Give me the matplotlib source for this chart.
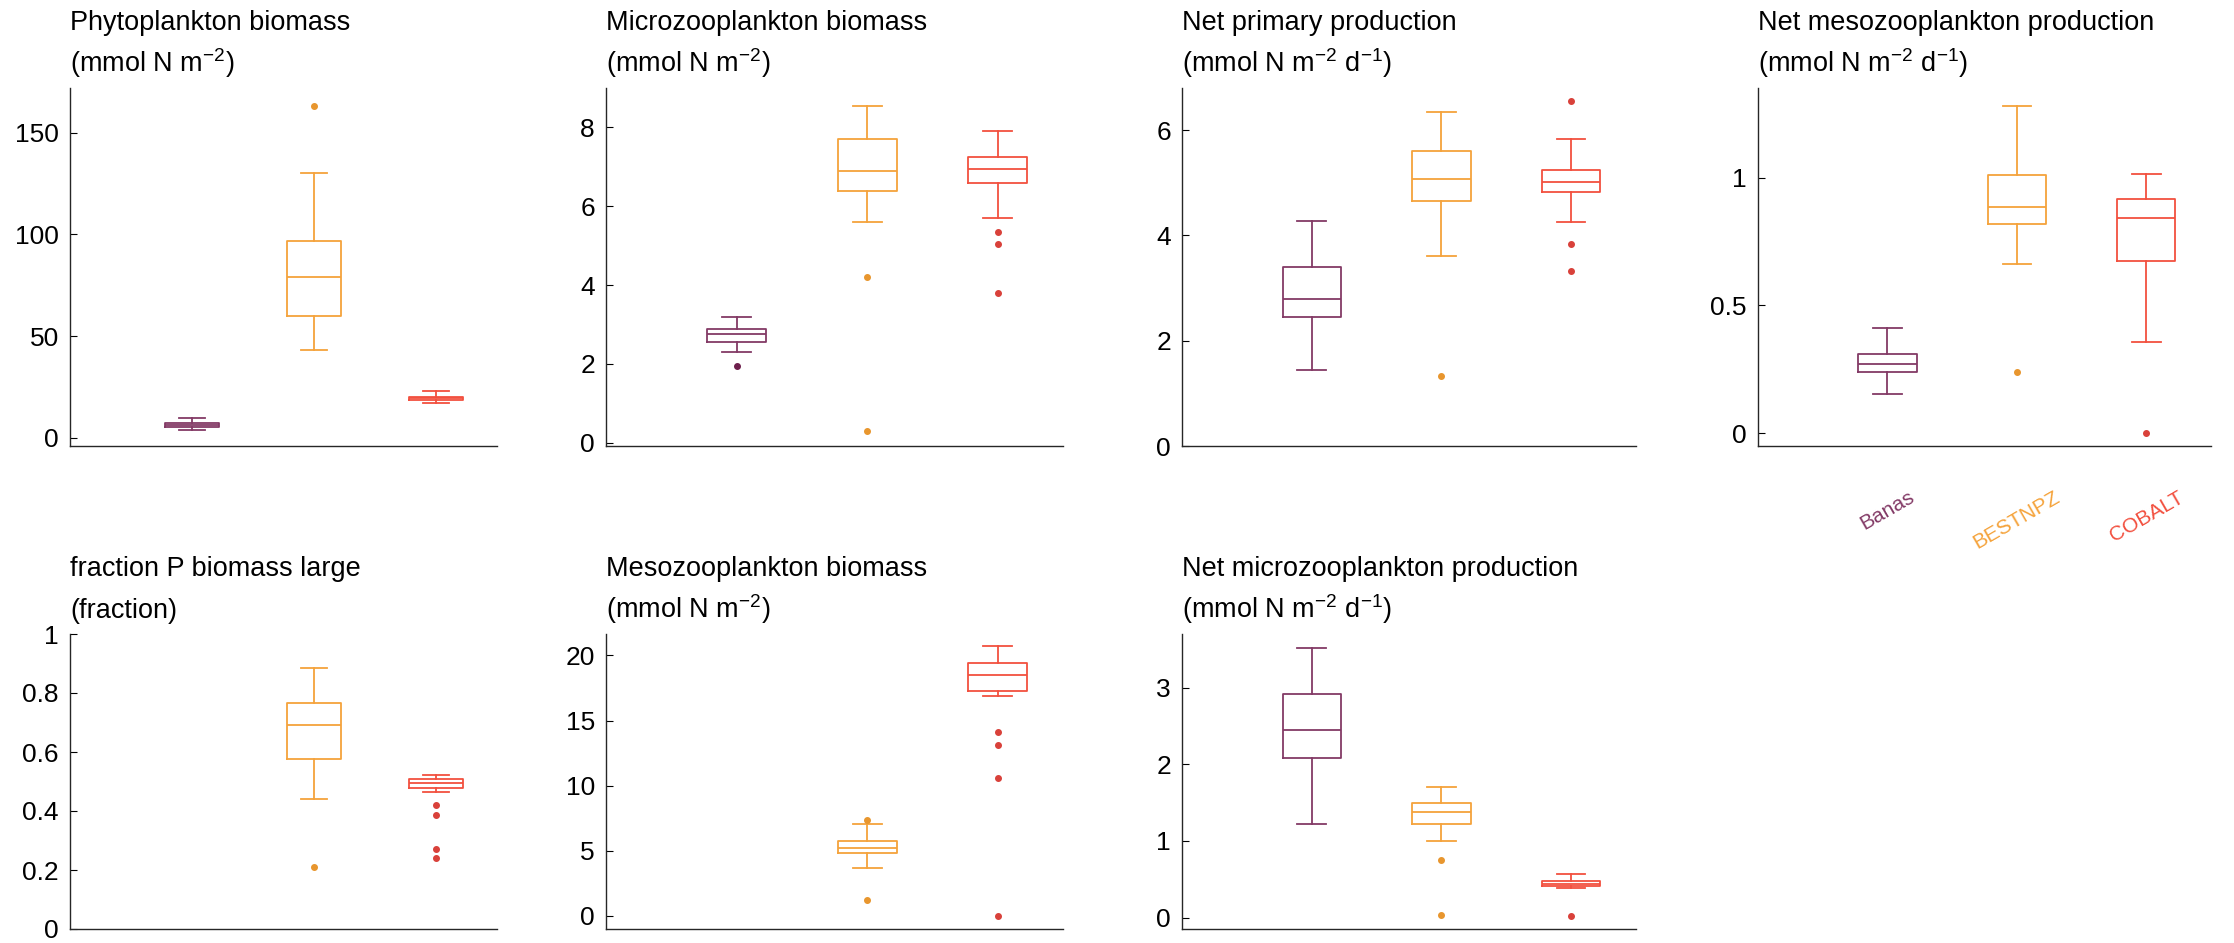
import matplotlib.pyplot as plt

plt.rcParams["font.family"] = ["Liberation Sans", "DejaVu Sans"]
plt.rcParams["mathtext.fontset"] = "custom"
plt.rcParams["mathtext.rm"] = "Liberation Sans"
plt.rcParams["mathtext.default"] = "regular"

# -----------------------------
# Data (whislo, q1, med, q3, whishi) per model, None = no data
# -----------------------------
models = ["Banas", "BESTNPZ", "COBALT"]
box_colors = ["#833a66", "#f5a33b", "#f2503f"]
dot_colors = ["#6e1f4c", "#e8962e", "#d9413a"]

phyto_box = [[4.0, 5.5, 6.5, 7.5, 10.0], [43, 60, 79, 97, 130], [17, 18.5, 19.5, 20.2, 23]]
phyto_out = [[], [163], []]

microz_box = [[2.3, 2.55, 2.75, 2.9, 3.2], [5.6, 6.4, 6.9, 7.7, 8.55], [5.7, 6.6, 6.95, 7.25, 7.9]]
microz_out = [[1.95], [4.2, 0.3], [5.35, 5.05, 3.8]]

npp_box = [[1.45, 2.45, 2.8, 3.4, 4.28], [3.6, 4.65, 5.08, 5.6, 6.35], [4.25, 4.82, 5.02, 5.25, 5.83]]
npp_out = [[], [1.33], [6.55, 3.83, 3.32]]

mesoprod_box = [[0.155, 0.24, 0.27, 0.31, 0.41], [0.66, 0.82, 0.885, 1.01, 1.28], [0.355, 0.675, 0.84, 0.915, 1.015]]
mesoprod_out = [[], [0.24], [0.0]]

frac_box = [None, [0.44, 0.575, 0.69, 0.765, 0.885], [0.465, 0.478, 0.495, 0.51, 0.522]]
frac_out = [[], [0.21], [0.42, 0.385, 0.27, 0.24]]

mesoz_box = [None, [3.7, 4.8, 5.2, 5.75, 7.05], [16.9, 17.3, 18.5, 19.4, 20.7]]
mesoz_out = [[], [7.4, 1.2], [14.1, 13.1, 10.6, 0.0]]

microprod_box = [[1.22, 2.08, 2.45, 2.92, 3.52], [1.0, 1.22, 1.38, 1.5, 1.7], [0.38, 0.41, 0.44, 0.48, 0.57]]
microprod_out = [[], [0.75, 0.03], [0.02]]

unit_b = "(mmol N m$^{-2}$)"
unit_p = "(mmol N m$^{-2}$ d$^{-1}$)"

panels = [
    ("Phytoplankton biomass", unit_b, phyto_box, phyto_out, (-4, 172), [0, 50, 100, 150], ["0", "50", "100", "150"]),
    ("Microzooplankton biomass", unit_b, microz_box, microz_out, (-0.08, 9.0), [0, 2, 4, 6, 8], ["0", "2", "4", "6", "8"]),
    ("Net primary production", unit_p, npp_box, npp_out, (0, 6.8), [0, 2, 4, 6], ["0", "2", "4", "6"]),
    ("Net mesozooplankton production", unit_p, mesoprod_box, mesoprod_out, (-0.05, 1.35), [0, 0.5, 1], ["0", "0.5", "1"]),
    ("fraction P biomass large", "(fraction)", frac_box, frac_out, (0, 1), [0, 0.2, 0.4, 0.6, 0.8, 1], ["0", "0.2", "0.4", "0.6", "0.8", "1"]),
    ("Mesozooplankton biomass", unit_b, mesoz_box, mesoz_out, (-1.0, 21.65), [0, 5, 10, 15, 20], ["0", "5", "10", "15", "20"]),
    ("Net microzooplankton production", unit_p, microprod_box, microprod_out, (-0.15, 3.7), [0, 1, 2, 3], ["0", "1", "2", "3"]),
]

# -----------------------------
# Layout (pixels -> figure fractions)
# -----------------------------
W, H = 2234, 943
col_lr = [(70, 497), (606, 1063), (1182, 1636), (1758, 2211)]
row_tb = [(88, 446), (634, 929)]

fig = plt.figure(figsize=(W / 100, H / 100), dpi=100)

for i, (title, unit, boxes, outs, ylim, yt, ytl) in enumerate(panels):
    r, c = divmod(i, 4)
    l, rr = col_lr[c]
    t, b = row_tb[r]
    ax = fig.add_axes([l / W, 1 - b / H, (rr - l) / W, (b - t) / H])

    for k in range(3):
        if boxes[k] is None:
            continue
        lo, q1, med, q3, hi = boxes[k]
        st = dict(whislo=lo, q1=q1, med=med, q3=q3, whishi=hi, fliers=outs[k])
        col = box_colors[k]
        ax.bxp([st], positions=[k + 1], widths=0.45, capwidths=0.22,
               showfliers=True, manage_ticks=False,
               boxprops=dict(color=col, linewidth=1.3),
               whiskerprops=dict(color=col, linewidth=1.3),
               capprops=dict(color=col, linewidth=1.3),
               medianprops=dict(color=col, linewidth=1.3),
               flierprops=dict(marker="o", markersize=4,
                               markerfacecolor=dot_colors[k],
                               markeredgecolor=dot_colors[k]))

    ax.set_xlim(0, 3.5)
    ax.set_ylim(*ylim)
    ax.set_yticks(yt)
    ax.set_yticklabels(ytl)
    ax.tick_params(axis="y", direction="in", length=5, labelsize=19, pad=8)
    ax.spines["top"].set_visible(False)
    ax.spines["right"].set_visible(False)
    for s in ["left", "bottom"]:
        ax.spines[s].set_color("#262626")
        ax.spines[s].set_linewidth(1.0)

    if i == 3:
        ax.set_xticks([1, 2, 3])
        ax.set_xticklabels(models, rotation=30, ha="center", fontsize=15)
        for lab, col in zip(ax.get_xticklabels(), box_colors):
            lab.set_color(col)
        ax.tick_params(axis="x", length=0, pad=30)
    else:
        ax.set_xticks([])

    ax.annotate(title, xy=(0, 1), xycoords="axes fraction", xytext=(0, 42),
                textcoords="offset points", fontsize=19.5, va="baseline", ha="left")
    ax.annotate(unit, xy=(0, 1), xycoords="axes fraction", xytext=(0, 11.5),
                textcoords="offset points", fontsize=19.5, va="baseline", ha="left")

fig.savefig("out.png", dpi=100)
